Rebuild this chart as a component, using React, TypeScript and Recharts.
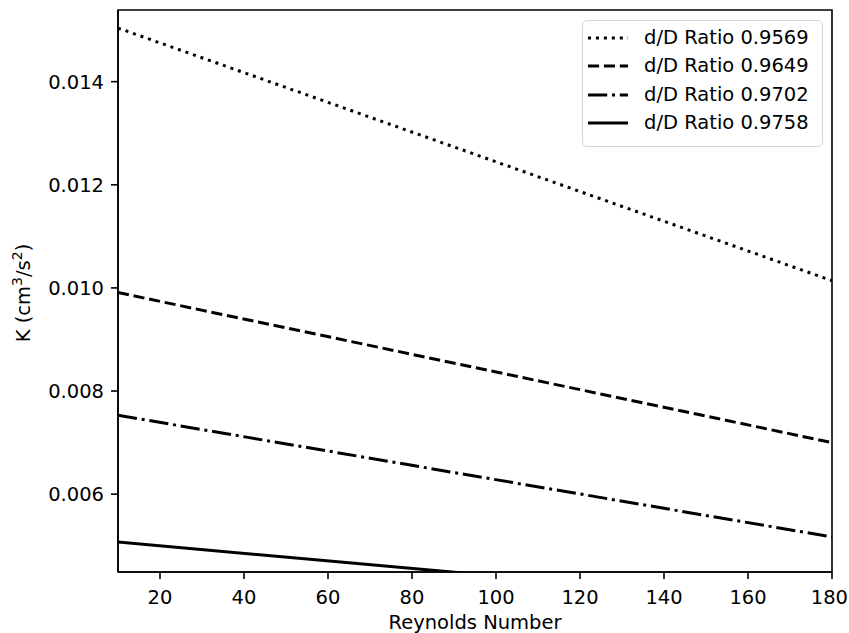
import React from 'react';
import { LineChart, Line, XAxis, YAxis, Legend, ReferenceArea } from 'recharts';

// Reynolds numbers at which K was evaluated
const reynoldsNumbers = [10, 180];
// K (cm^3/s^2) for each d/D ratio
const ratio09569 = [0.01504, 0.01014];
const ratio09649 = [0.00991, 0.007];
const ratio09702 = [0.00753, 0.00517];
const ratio09758 = [0.00507, 0.00383];

const seriesLabels = ['d/D Ratio 0.9569', 'd/D Ratio 0.9649', 'd/D Ratio 0.9702', 'd/D Ratio 0.9758'];
const seriesKeys = ['r9569', 'r9649', 'r9702', 'r9758'];
const seriesValues = [ratio09569, ratio09649, ratio09702, ratio09758];

const xTicks = [20, 40, 60, 80, 100, 120, 140, 160, 180];
const yTicks = [0.006, 0.008, 0.01, 0.012, 0.014];
const xDomain = [10, 180];
const yDomain = [0.00449, 0.01539];

const dashes = ['3 4.95', '11.1 4.8', '19.2 4.8 3 4.8', undefined];

const data = reynoldsNumbers.map((re, i) => {
  const row: Record<string, number> = { re };
  seriesKeys.forEach((k, j) => {
    row[k] = seriesValues[j][i];
  });
  return row;
});

const CHART_W = 849;
const CHART_H = 633;
const FONT = "'DejaVu Sans', sans-serif";
const FS = 19.5;
const tickStyle = { fill: '#000', fontSize: FS, fontFamily: FONT };

const XTick = (props: any) => {
  const { x, y, payload } = props;
  const label = String(payload.value);
  const halfW = (label.length * 0.636 * FS) / 2;
  const cx = Math.min(x, CHART_W - 1 - halfW);
  return (
    <text x={cx} y={y} dy="0.71em" textAnchor="middle" fill="#000" fontSize={FS} fontFamily={FONT}>
      {label}
    </text>
  );
};

const renderLegend = () => (
  <div
    style={{
      boxSizing: 'border-box',
      width: 241,
      height: 127,
      border: '1.5px solid #d5d5d5',
      borderRadius: 5,
      background: 'rgba(255,255,255,0.8)',
      position: 'relative',
      fontFamily: FONT,
      fontSize: FS,
      color: '#000',
    }}
  >
    {seriesLabels.map((label, i) => (
      <div
        key={label}
        style={{
          position: 'absolute',
          left: 5,
          top: 18.3 + i * 28.4 - 12 - 1.5,
          height: 24,
          display: 'flex',
          alignItems: 'center',
          whiteSpace: 'nowrap',
        }}
      >
        <svg width={40} height={6} style={{ display: 'block' }}>
          <line x1={0} y1={3} x2={40} y2={3} stroke="#000" strokeWidth={3} strokeDasharray={dashes[i]} />
        </svg>
        <span style={{ marginLeft: 16, lineHeight: '24px' }}>{label}</span>
      </div>
    ))}
  </div>
);

const YLabel = (props: any) => {
  const vb = props.viewBox || { x: 0, y: 10, width: 118, height: 562 };
  const cx = vb.x + 30;
  const cy = vb.y + vb.height / 2 + 2;
  return (
    <text
      transform={`translate(${cx},${cy}) rotate(-90)`}
      textAnchor="middle"
      fill="#000"
      fontSize={FS}
      fontFamily={FONT}
    >
      K (cm<tspan dy={-8} fontSize={14}>3</tspan>
      <tspan dy={8}>/s</tspan>
      <tspan dy={-8} fontSize={14}>2</tspan>
      <tspan dy={8}>)</tspan>
    </text>
  );
};

const XLabel = (props: any) => {
  const vb = props.viewBox || { x: 118, y: 572, width: 714, height: 61 };
  return (
    <text x={vb.x + vb.width / 2} y={vb.y + 57} textAnchor="middle" fill="#000" fontSize={FS} fontFamily={FONT}>
      Reynolds Number
    </text>
  );
};

export default function App() {
  return (
    <div style={{ position: 'absolute', left: 0, top: 0, background: '#fff' }}>
      <LineChart width={CHART_W} height={CHART_H} data={data} margin={{ top: 10, right: 17, bottom: 0, left: 0 }}>
        <XAxis
          dataKey="re"
          type="number"
          domain={xDomain}
          ticks={xTicks}
          allowDataOverflow
          height={61}
          tickSize={7}
          tickMargin={11}
          tick={<XTick />}
          tickLine={{ stroke: '#000', strokeWidth: 1.6 }}
          axisLine={{ stroke: '#000', strokeWidth: 1.6 }}
          label={XLabel}
        />
        <YAxis
          type="number"
          domain={yDomain}
          ticks={yTicks}
          allowDataOverflow
          width={118}
          tickSize={7}
          tickMargin={7}
          tick={tickStyle}
          tickFormatter={(v: number) => v.toFixed(3)}
          tickLine={{ stroke: '#000', strokeWidth: 1.6 }}
          axisLine={{ stroke: '#000', strokeWidth: 1.6 }}
          label={YLabel}
        />
        <ReferenceArea
          x1={xDomain[0]}
          x2={xDomain[1]}
          y1={yDomain[0]}
          y2={yDomain[1]}
          fill="none"
          fillOpacity={0}
          stroke="#000"
          strokeWidth={1.6}
          ifOverflow="visible"
        />
        {seriesKeys.map((k, i) => (
          <Line
            key={k}
            dataKey={k}
            name={seriesLabels[i]}
            type="linear"
            stroke="#000"
            strokeWidth={3}
            strokeDasharray={dashes[i]}
            dot={false}
            activeDot={false}
            isAnimationActive={false}
          />
        ))}
        <Legend
          layout="horizontal"
          align="center"
          verticalAlign="middle"
          content={renderLegend}
          wrapperStyle={{ position: 'absolute', left: 582, top: 20, width: 241, height: 127 }}
        />
      </LineChart>
    </div>
  );
}
